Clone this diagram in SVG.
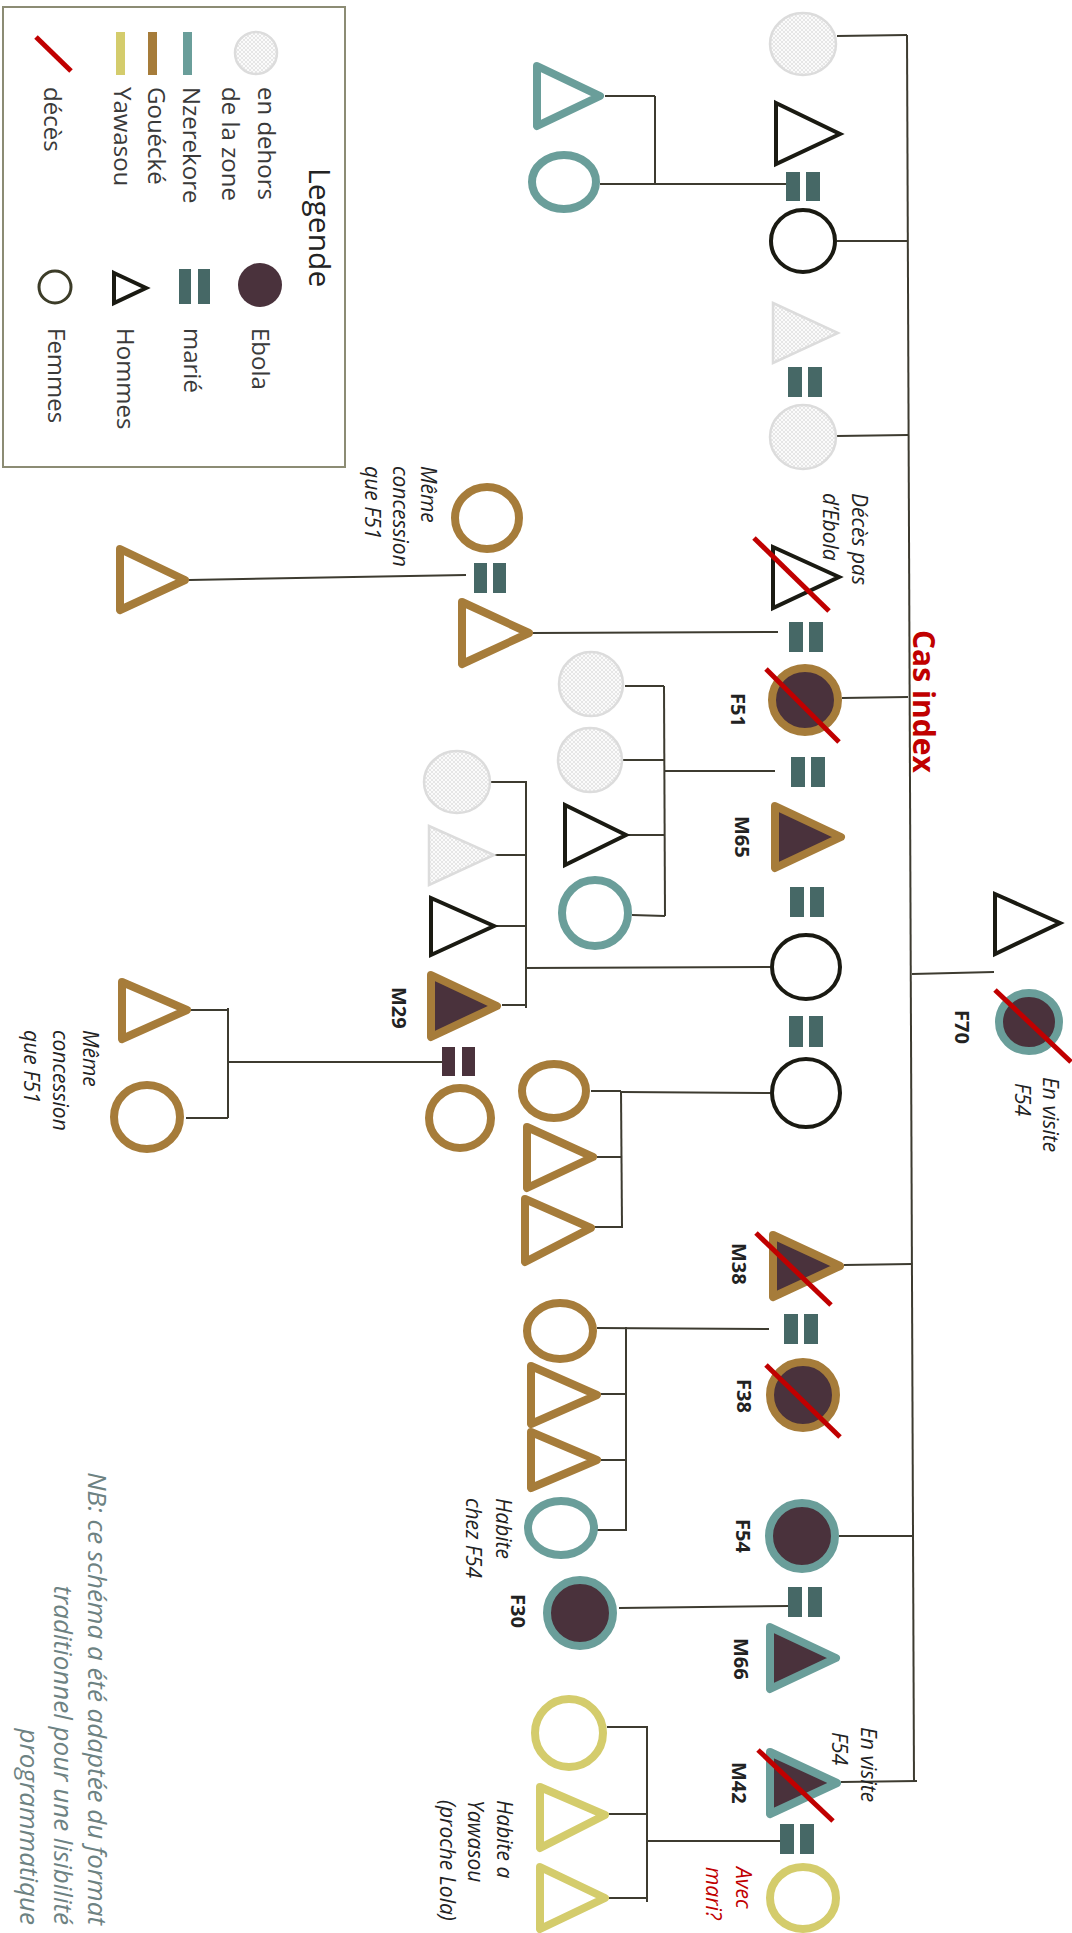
<svg xmlns="http://www.w3.org/2000/svg" width="1072" height="1933" viewBox="0 0 1072 1933">
<defs>
<pattern id="hatch" width="4" height="4" patternUnits="userSpaceOnUse">
<rect width="4" height="4" fill="#fbfbfb"/>
<path d="M0,0 L4,4 M4,0 L0,4" stroke="#d8d8d8" stroke-width="0.6"/>
</pattern>
<style>
.ln{stroke:#3d3b30;stroke-width:2;fill:none}
.blk{fill:#fff;stroke:#1a1a12;stroke-width:4}
.pat{fill:url(#hatch);stroke:#dcdcdc;stroke-width:2.5}
.tealo{fill:#fff;stroke:#6a9e9a;stroke-width:8;stroke-linejoin:round}
.tealf{fill:#4a323c;stroke:#6a9e9a;stroke-width:8;stroke-linejoin:round}
.brno{fill:#fff;stroke:#a67c3a;stroke-width:8;stroke-linejoin:round}
.brnf{fill:#4a323c;stroke:#a67c3a;stroke-width:8;stroke-linejoin:round}
.yelo{fill:#fff;stroke:#d4cc6c;stroke-width:8;stroke-linejoin:round}
.mar{fill:#466866}
.mar2{fill:#4a323c}
.dead{stroke:#c00000;stroke-width:5}
text{font-family:"Open Sans","DejaVu Sans",sans-serif}
.lbl{font-weight:bold;font-size:20px;fill:#222}
.note{font-style:italic;font-size:21px;fill:#222}
.leg{font-size:24px;fill:#3a3a3a}
.nb{font-style:italic;font-size:26px;fill:#6d8282}
.red{fill:#c00000}
</style>
</defs>
<rect width="1072" height="1933" fill="#fff"/>

<g id="legend">
<rect x="3" y="7" width="342" height="460" fill="#fff" stroke="#8c8c74" stroke-width="2"/>
<text class="leg" style="font-size:30px;fill:#222" transform="translate(309,168) rotate(90)">Legende</text>
<circle class="pat" cx="256" cy="53" r="21"/>
<rect x="183" y="32" width="9" height="43" fill="#6a9e9a"/>
<rect x="148" y="32" width="9" height="43" fill="#a67c3a"/>
<rect x="116" y="32" width="9" height="43" fill="#d4cc6c"/>
<line class="dead" x1="36" y1="37" x2="71" y2="71"/>
<text class="leg" transform="translate(258,87) rotate(90)"><tspan x="0" y="0">en dehors</tspan><tspan x="0" y="36">de la zone</tspan></text>
<text class="leg" transform="translate(183,87) rotate(90)">Nzerekore</text>
<text class="leg" transform="translate(148,87) rotate(90)">Gouécké</text>
<text class="leg" transform="translate(114,87) rotate(90)">Yawasou</text>
<text class="leg" transform="translate(44,87) rotate(90)">décès</text>
<circle cx="260" cy="285" r="22" fill="#4a323c"/>
<rect class="mar" x="179" y="269" width="12" height="35"/>
<rect class="mar" x="198" y="269" width="12" height="35"/>
<polygon class="blk" points="114,273 146,288 114,303"/>
<circle cx="55" cy="287" r="16" fill="#fff" stroke="#3c3c28" stroke-width="3"/>
<text class="leg" transform="translate(252,328) rotate(90)">Ebola</text>
<text class="leg" transform="translate(184,328) rotate(90)">marié</text>
<text class="leg" transform="translate(117,328) rotate(90)">Hommes</text>
<text class="leg" transform="translate(48,328) rotate(90)">Femmes</text>
</g>

<g id="connectors">
<polyline class="ln" points="907,35 914,1782"/>
<line class="ln" x1="837" y1="36" x2="907" y2="35"/>
<line class="ln" x1="837" y1="241" x2="908" y2="241"/>
<line class="ln" x1="837" y1="436" x2="908" y2="435"/>
<line class="ln" x1="605" y1="96" x2="655" y2="96"/>
<line class="ln" x1="655" y1="96" x2="655" y2="185"/>
<line class="ln" x1="600" y1="184" x2="789" y2="184"/>
<line class="ln" x1="842" y1="698" x2="908" y2="697"/>
<line class="ln" x1="533" y1="633" x2="778" y2="632"/>
<line class="ln" x1="189" y1="580" x2="466" y2="575"/>
<line class="ln" x1="664" y1="686" x2="665" y2="916"/>
<line class="ln" x1="625" y1="686" x2="664" y2="686"/>
<line class="ln" x1="622" y1="760" x2="664" y2="760"/>
<line class="ln" x1="628" y1="835" x2="665" y2="835"/>
<line class="ln" x1="632" y1="915" x2="665" y2="916"/>
<line class="ln" x1="664" y1="771" x2="775" y2="771"/>
<line class="ln" x1="526" y1="781" x2="526" y2="1008"/>
<line class="ln" x1="491" y1="782" x2="527" y2="782"/>
<line class="ln" x1="495" y1="855" x2="526" y2="855"/>
<line class="ln" x1="496" y1="926" x2="526" y2="926"/>
<line class="ln" x1="502" y1="1005" x2="526" y2="1005"/>
<line class="ln" x1="526" y1="968" x2="770" y2="967"/>
<line class="ln" x1="442" y1="1062" x2="228" y2="1062"/>
<line class="ln" x1="228" y1="1008" x2="228" y2="1118"/>
<line class="ln" x1="191" y1="1010" x2="228" y2="1010"/>
<line class="ln" x1="186" y1="1118" x2="228" y2="1118"/>
<line class="ln" x1="912" y1="974" x2="994" y2="972"/>
<line class="ln" x1="770" y1="1093" x2="621" y2="1092"/>
<line class="ln" x1="621" y1="1091" x2="622" y2="1228"/>
<line class="ln" x1="591" y1="1091" x2="621" y2="1091"/>
<line class="ln" x1="597" y1="1157" x2="621" y2="1157"/>
<line class="ln" x1="595" y1="1227" x2="622" y2="1227"/>
<line class="ln" x1="844" y1="1265" x2="912" y2="1264"/>
<line class="ln" x1="597" y1="1328" x2="769" y2="1329"/>
<line class="ln" x1="626" y1="1327" x2="626" y2="1531"/>
<line class="ln" x1="601" y1="1394" x2="626" y2="1394"/>
<line class="ln" x1="601" y1="1460" x2="626" y2="1460"/>
<line class="ln" x1="597" y1="1530" x2="626" y2="1530"/>
<line class="ln" x1="839" y1="1536" x2="913" y2="1536"/>
<line class="ln" x1="619" y1="1608" x2="789" y2="1606"/>
<line class="ln" x1="841" y1="1782" x2="917" y2="1781"/>
<line class="ln" x1="647" y1="1841" x2="780" y2="1841"/>
<line class="ln" x1="647" y1="1726" x2="647" y2="1902"/>
<line class="ln" x1="607" y1="1727" x2="647" y2="1727"/>
<line class="ln" x1="609" y1="1814" x2="647" y2="1814"/>
<line class="ln" x1="609" y1="1898" x2="647" y2="1898"/>
</g>

<g id="marriages">
<rect class="mar" x="786" y="172" width="14" height="29"/><rect class="mar" x="806" y="172" width="14" height="29"/>
<rect class="mar" x="788" y="367" width="14" height="30"/><rect class="mar" x="808" y="367" width="14" height="30"/>
<rect class="mar" x="474" y="563" width="13" height="30"/><rect class="mar" x="493" y="563" width="13" height="30"/>
<rect class="mar" x="789" y="622" width="14" height="30"/><rect class="mar" x="809" y="622" width="14" height="30"/>
<rect class="mar" x="791" y="757" width="14" height="30"/><rect class="mar" x="811" y="757" width="14" height="30"/>
<rect class="mar" x="790" y="887" width="14" height="30"/><rect class="mar" x="810" y="887" width="14" height="30"/>
<rect class="mar" x="789" y="1016" width="14" height="31"/><rect class="mar" x="809" y="1016" width="14" height="31"/>
<rect class="mar2" x="442" y="1047" width="13" height="29"/><rect class="mar2" x="462" y="1047" width="13" height="29"/>
<rect class="mar" x="784" y="1314" width="14" height="30"/><rect class="mar" x="804" y="1314" width="14" height="30"/>
<rect class="mar" x="788" y="1587" width="14" height="30"/><rect class="mar" x="808" y="1587" width="14" height="30"/>
<rect class="mar" x="780" y="1824" width="14" height="30"/><rect class="mar" x="800" y="1824" width="14" height="30"/>
</g>

<g id="gen1">
<ellipse id="n-top1" class="pat" cx="803" cy="44" rx="33" ry="31"/>
<polygon id="n-top2" class="blk" points="776,103 840,134 776,164"/>
<ellipse id="n-top3" class="blk" cx="803" cy="241" rx="32" ry="31"/>
<polygon id="n-top4" class="pat" points="773,303 838,333 773,363"/>
<ellipse id="n-top5" class="pat" cx="803" cy="437" rx="33" ry="32"/>
<polygon id="n-teal-m" class="tealo" points="537,66 600,96 537,126"/>
<ellipse id="n-teal-f" class="tealo" cx="564" cy="182" rx="32" ry="27"/>
</g>

<g id="n-deces-pas-ebola">
<polygon class="blk" points="773,547 839,577 773,608"/>
<line class="dead" x1="754" y1="538" x2="829" y2="611"/>
<text class="note" transform="translate(852,493) rotate(90)"><tspan x="0" y="0">Décès pas</tspan><tspan x="0" y="29">d’Ebola</tspan></text>
</g>
<g id="n-F51">
<ellipse class="brnf" cx="805" cy="700" rx="33" ry="32"/>
<line class="dead" x1="766" y1="669" x2="839" y2="742"/>
<text class="lbl" transform="translate(731,693) rotate(90)">F51</text>
</g>
<text id="cas-index" transform="translate(913,630) rotate(90)" style="font-weight:bold;font-size:30px;fill:#c00000">Cas index</text>
<g id="n-M65">
<polygon class="brnf" points="775,806 841,837 775,868"/>
<text class="lbl" transform="translate(735,816) rotate(90)">M65</text>
</g>
<ellipse id="n-f967" class="blk" cx="806" cy="967" rx="34" ry="32"/>
<ellipse id="n-f1093" class="blk" cx="806" cy="1093" rx="34" ry="34"/>

<g id="n-concession1">
<ellipse class="brno" cx="487" cy="518" rx="32" ry="31"/>
<polygon class="brno" points="462,602 529,633 462,664"/>
<polygon class="brno" points="120,549 185,580 120,610"/>
<text class="note" transform="translate(421,466) rotate(90)"><tspan x="0" y="0">Même</tspan><tspan x="0" y="28">concession</tspan><tspan x="0" y="56">que F51</tspan></text>
</g>

<g id="sib-F51">
<ellipse class="pat" cx="591" cy="684" rx="32" ry="32"/>
<ellipse class="pat" cx="590" cy="760" rx="32" ry="32"/>
<polygon class="blk" points="565,805 626,835 565,865"/>
<ellipse class="tealo" cx="595" cy="913" rx="33" ry="33"/>
</g>

<g id="sib-M29">
<ellipse class="pat" cx="457" cy="782" rx="33" ry="31"/>
<polygon class="pat" points="429,826 494,855 429,885"/>
<polygon class="blk" points="431,898 494,926 431,955"/>
<polygon id="n-M29" class="brnf" points="431,975 497,1006 431,1037"/>
<text class="lbl" transform="translate(392,987) rotate(90)">M29</text>
<ellipse class="brno" cx="460" cy="1118" rx="31" ry="30"/>
</g>

<g id="n-concession2">
<polygon class="brno" points="122,982 187,1010 122,1039"/>
<ellipse class="brno" cx="147" cy="1117" rx="33" ry="32"/>
<text class="note" transform="translate(83,1030) rotate(90)"><tspan x="0" y="0">Même</tspan><tspan x="0" y="30">concession</tspan><tspan x="0" y="59">que F51</tspan></text>
</g>

<g id="n-F70">
<polygon class="blk" points="995,894 1060,923 995,954"/>
<ellipse class="tealf" cx="1029" cy="1022" rx="30" ry="29"/>
<line class="dead" x1="995" y1="990" x2="1071" y2="1062"/>
<text class="lbl" transform="translate(955,1010) rotate(90)">F70</text>
<text class="note" transform="translate(1043,1077) rotate(90)"><tspan x="0" y="0">En visite</tspan><tspan x="6" y="28">F54</tspan></text>
</g>

<g id="sib-1093">
<ellipse class="brno" cx="554" cy="1091" rx="32" ry="27"/>
<polygon class="brno" points="527,1127 593,1157 527,1188"/>
<polygon class="brno" points="525,1199 591,1228 525,1262"/>
</g>

<g id="n-M38">
<polygon class="brnf" points="773,1235 840,1266 773,1297"/>
<line class="dead" x1="756" y1="1233" x2="831" y2="1305"/>
<text class="lbl" transform="translate(732,1243) rotate(90)">M38</text>
</g>
<g id="n-F38">
<ellipse class="brnf" cx="803" cy="1395" rx="33" ry="33"/>
<line class="dead" x1="766" y1="1365" x2="840" y2="1437"/>
<text class="lbl" transform="translate(737,1379) rotate(90)">F38</text>
</g>

<g id="sib-M38">
<ellipse class="brno" cx="560" cy="1331" rx="33" ry="28"/>
<polygon class="brno" points="531,1366 597,1395 531,1424"/>
<polygon class="brno" points="531,1432 597,1460 531,1488"/>
<ellipse class="tealo" cx="561" cy="1528" rx="33" ry="27"/>
<text class="note" transform="translate(496,1498) rotate(90)"><tspan x="0" y="0">Habite</tspan><tspan x="0" y="30">chez F54</tspan></text>
</g>

<g id="n-F54">
<ellipse class="tealf" cx="802" cy="1536" rx="33" ry="33"/>
<text class="lbl" transform="translate(736,1519) rotate(90)">F54</text>
</g>
<g id="n-F30">
<ellipse class="tealf" cx="580" cy="1613" rx="33" ry="33"/>
<text class="lbl" transform="translate(511,1594) rotate(90)">F30</text>
</g>
<g id="n-M66">
<polygon class="tealf" points="770,1627 836,1658 770,1689"/>
<text class="lbl" transform="translate(734,1638) rotate(90)">M66</text>
</g>
<g id="n-M42">
<polygon class="tealf" points="770,1752 837,1783 770,1814"/>
<line class="dead" x1="758" y1="1750" x2="833" y2="1821"/>
<text class="lbl" transform="translate(732,1762) rotate(90)">M42</text>
<text class="note" transform="translate(861,1727) rotate(90)"><tspan x="0" y="0">En visite</tspan><tspan x="5" y="29">F54</tspan></text>
</g>
<g id="n-M42-wife">
<ellipse class="yelo" cx="803" cy="1898" rx="33" ry="31"/>
<text class="note red" transform="translate(736,1867) rotate(90)"><tspan x="0" y="0">Avec</tspan><tspan x="0" y="30">mari?</tspan></text>
</g>
<g id="sib-yawasou">
<ellipse class="yelo" cx="569" cy="1733" rx="34" ry="34"/>
<polygon class="yelo" points="540,1787 605,1815 540,1848"/>
<polygon class="yelo" points="540,1867 605,1898 540,1929"/>
<text class="note" transform="translate(497,1800) rotate(90)"><tspan x="0" y="0">Habite a</tspan><tspan x="0" y="29">Yawasou</tspan><tspan x="0" y="57">(proche Lola)</tspan></text>
</g>

<text id="nb" class="nb" text-anchor="end" transform="translate(88,1925) rotate(90)"><tspan x="0" y="0">NB: ce schéma a été adaptée du format</tspan><tspan x="0" y="34">traditionnel pour une lisibilité</tspan><tspan x="0" y="68">programmatique</tspan></text>
</svg>
